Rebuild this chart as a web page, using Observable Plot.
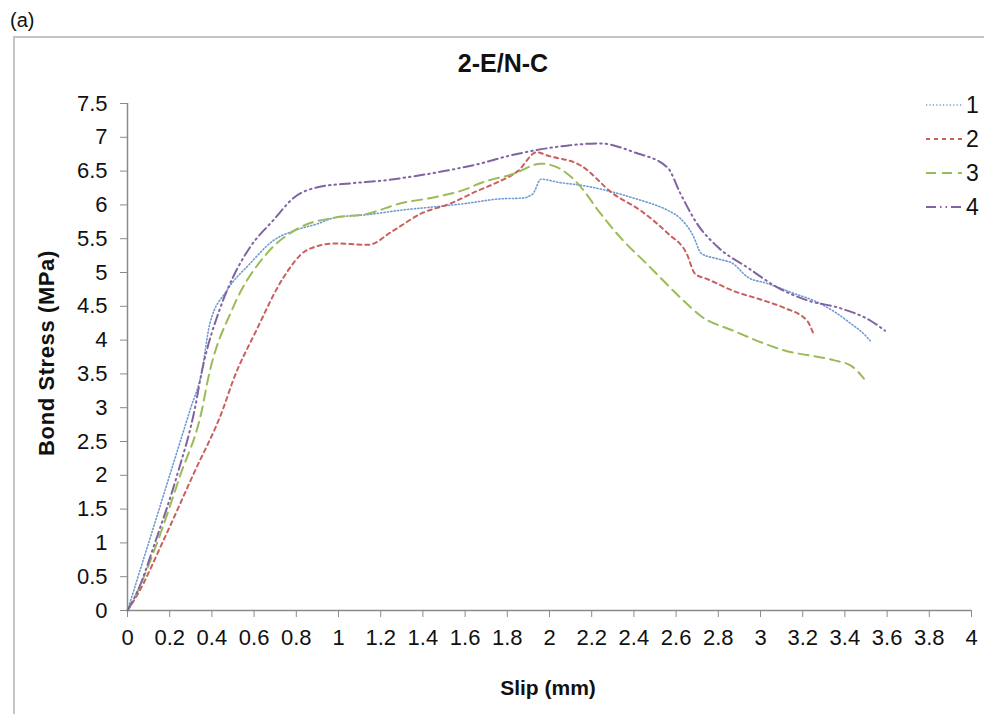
<!DOCTYPE html>
<html>
<head>
<meta charset="utf-8">
<script src="https://cdn.jsdelivr.net/npm/d3@7"></script>
<script src="https://cdn.jsdelivr.net/npm/@observablehq/plot@0.6"></script>
<style>
  html, body { margin: 0; padding: 0; background: #fff; }
  #wrap { position: relative; width: 984px; height: 714px; overflow: hidden; font-family: "Liberation Sans", Arial, sans-serif; color: #111; }
  #frame { position: absolute; left: 13px; top: 36px; width: 990px; height: 700px; border-left: 2px solid #c4c4c4; border-top: 2px solid #c4c4c4; }
  #tag { position: absolute; left: 10px; top: 9px; font-size: 20px; }
  #title { position: absolute; left: 0; width: 1006px; top: 49px; text-align: center; font-size: 25px; font-weight: bold; }
  #ylab { position: absolute; left: 47px; top: 353px; font-size: 22px; letter-spacing: 0.6px; font-weight: bold; white-space: nowrap; transform: translate(-50%, -50%) rotate(-90deg); }
  #xlab { position: absolute; left: 548px; top: 688px; font-size: 21px; font-weight: bold; white-space: nowrap; transform: translate(-50%, -50%); }
  #chart { position: absolute; left: 0; top: 0; }
  .leg { position: absolute; left: 924px; height: 24px; display: flex; align-items: center; font-size: 23px; }
  .leg svg { margin-right: 4px; }
</style>
</head>
<body>
<div id="wrap">
  <div id="frame"></div>
  <div id="chart"></div>
  <div id="tag">(a)</div>
  <div id="title">2-E/N-C</div>
  <div id="ylab">Bond Stress (MPa)</div>
  <div id="xlab">Slip (mm)</div>
</div>
<script>
// ---- data ----
const seriesNames = ["1", "2", "3", "4"];

const slip1 = [0, 0.03, 0.1, 0.2, 0.3, 0.35, 0.39, 0.47, 0.58, 0.69, 0.79, 0.9, 0.98, 1.15, 1.29, 1.45, 1.6, 1.77, 1.87, 1.92, 1.96, 2.05, 2.15, 2.3, 2.42, 2.5, 2.56, 2.62, 2.68, 2.72, 2.8, 2.87, 2.94, 3.03, 3.15, 3.27, 3.35, 3.43, 3.48, 3.52];
const stress1 = [0, 0.3, 1.0, 2.0, 3.0, 3.5, 4.24, 4.73, 5.13, 5.47, 5.62, 5.72, 5.81, 5.86, 5.92, 5.97, 6.02, 6.09, 6.1, 6.16, 6.38, 6.33, 6.29, 6.19, 6.08, 6.0, 5.92, 5.8, 5.55, 5.28, 5.2, 5.13, 4.93, 4.84, 4.7, 4.56, 4.42, 4.24, 4.12, 3.99];

const slip2 = [0, 0.05, 0.165, 0.31, 0.455, 0.5, 0.61, 0.74, 0.85, 0.98, 1.14, 1.26, 1.39, 1.53, 1.66, 1.75, 1.85, 1.94, 1.99, 2.15, 2.3, 2.43, 2.56, 2.65, 2.69, 2.75, 2.87, 3.0, 3.11, 3.22, 3.25];
const stress2 = [0, 0.25, 1.0, 2.0, 3.0, 3.4, 4.14, 4.93, 5.33, 5.43, 5.41, 5.62, 5.87, 6.02, 6.21, 6.33, 6.5, 6.78, 6.73, 6.58, 6.17, 5.92, 5.58, 5.28, 4.98, 4.9, 4.73, 4.6, 4.48, 4.29, 4.1];

const slip3 = [0, 0.05, 0.14, 0.25, 0.355, 0.38, 0.5, 0.66, 0.82, 0.98, 1.14, 1.29, 1.45, 1.61, 1.67, 1.83, 1.96, 2.04, 2.15, 2.23, 2.35, 2.46, 2.62, 2.72, 2.87, 3.11, 3.35, 3.43, 3.49];
const stress3 = [0, 0.3, 1.0, 2.0, 3.0, 3.4, 4.48, 5.28, 5.67, 5.81, 5.87, 6.02, 6.11, 6.24, 6.32, 6.46, 6.61, 6.55, 6.26, 5.92, 5.47, 5.13, 4.63, 4.35, 4.14, 3.85, 3.7, 3.62, 3.43];

const slip4 = [0, 0.05, 0.13, 0.235, 0.32, 0.35, 0.44, 0.5, 0.58, 0.69, 0.79, 0.9, 1.06, 1.21, 1.35, 1.5, 1.67, 1.8, 1.92, 2.09, 2.24, 2.4, 2.56, 2.62, 2.7, 2.8, 2.94, 3.08, 3.22, 3.38, 3.52, 3.59];
const stress4 = [0, 0.3, 1.0, 2.0, 3.0, 3.5, 4.48, 4.93, 5.37, 5.77, 6.11, 6.26, 6.32, 6.36, 6.42, 6.5, 6.61, 6.72, 6.8, 6.88, 6.91, 6.78, 6.55, 6.17, 5.72, 5.37, 5.07, 4.78, 4.59, 4.47, 4.29, 4.14];

const xTicks = [0, 0.2, 0.4, 0.6, 0.8, 1, 1.2, 1.4, 1.6, 1.8, 2, 2.2, 2.4, 2.6, 2.8, 3, 3.2, 3.4, 3.6, 3.8, 4];
const yTicks = [0, 0.5, 1, 1.5, 2, 2.5, 3, 3.5, 4, 4.5, 5, 5.5, 6, 6.5, 7, 7.5];

// ---- styles ----
const styles = [
  {color: "#6f9bd3", dash: "1.2,2.2", width: 1.6},
  {color: "#c9605d", dash: "4,4", width: 2},
  {color: "#9bbb59", dash: "10,6", width: 2},
  {color: "#8064a2", dash: "10,4,1.5,4,1.5,4", width: 2}
];

const slips = [slip1, slip2, slip3, slip4];
const stresses = [stress1, stress2, stress3, stress4];
const tables = slips.map((xs, k) => xs.map((x, i) => ({slip: x, stress: stresses[k][i]})));

const fmt = d => String(+d.toFixed(1));

const plot = Plot.plot({
  width: 984,
  height: 714,
  marginLeft: 127,
  marginRight: 13,
  marginTop: 103,
  marginBottom: 104,
  style: {fontFamily: "'Liberation Sans', Arial, sans-serif", background: "transparent", overflow: "visible"},
  x: {domain: [0, 4], label: null},
  y: {domain: [0, 7.5], label: null},
  marks: [
    Plot.axisX({ticks: xTicks, tickFormat: fmt, tickSize: 7, tickPadding: 12, stroke: "#8a8a8a", fill: "#111", fontSize: 22, label: null}),
    Plot.axisY({ticks: yTicks, tickFormat: fmt, tickSize: 7, tickPadding: 13, stroke: "#8a8a8a", fill: "#111", fontSize: 22, label: null}),
    Plot.ruleX([0], {stroke: "#8a8a8a", strokeWidth: 1.5}),
    Plot.ruleY([0], {stroke: "#8a8a8a", strokeWidth: 1.5}),
    ...tables.map((t, k) => Plot.line(t, {
      x: "slip", y: "stress",
      stroke: styles[k].color,
      strokeWidth: styles[k].width,
      strokeDasharray: styles[k].dash,
      curve: "monotone-x"
    }))
  ]
});
// enforce tick label sizes
d3.select(plot).selectAll("text").each(function() {
  this.setAttribute("font-size", "22");
  this.style.fontSize = "22px";
});
document.getElementById("chart").appendChild(plot);

// ---- legend ----
const legendTops = [93, 127, 161, 195];
const wrap = document.getElementById("wrap");
seriesNames.forEach((name, k) => {
  const div = document.createElement("div");
  div.className = "leg";
  div.style.top = legendTops[k] + "px";
  const s = styles[k];
  div.innerHTML = `<svg width="38" height="10"><line x1="2" y1="5" x2="38" y2="5" stroke="${s.color}" stroke-width="${s.width}" stroke-dasharray="${s.dash}"/></svg><span>${name}</span>`;
  wrap.appendChild(div);
});
</script>
</body>
</html>
